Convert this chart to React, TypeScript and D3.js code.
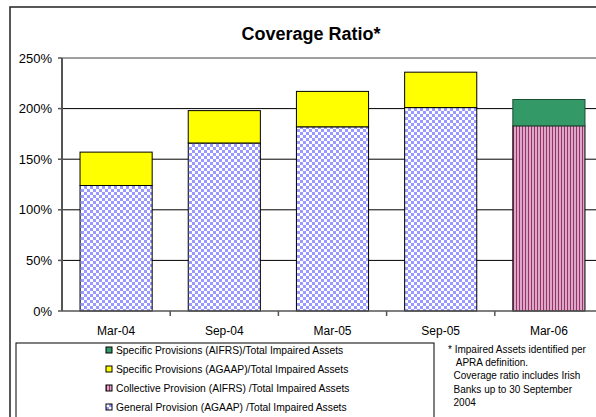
import * as d3 from "d3";
import React from "react";

const periods = ["Mar-04", "Sep-04", "Mar-05", "Sep-05", "Mar-06"];
const generalAgaap = [124, 166, 182, 201, 0];
const collectiveAifrs = [0, 0, 0, 0, 183];
const specificAgaap = [33, 32, 35, 35, 0];
const specificAifrs = [0, 0, 0, 0, 26];
const yTicks = [0, 50, 100, 150, 200, 250];

const seriesKeys = ["general", "collective", "specAgaap", "specAifrs"];
const seriesFill: Record<string, string> = {
  general: "url(#checker)",
  collective: "url(#stripes)",
  specAgaap: "#ffff00",
  specAifrs: "#339966",
};
// legend is listed top to bottom in reverse stacking order
const legendItems = [
  { key: "specAifrs", label: "Specific Provisions (AIFRS)/Total Impaired Assets" },
  { key: "specAgaap", label: "Specific Provisions (AGAAP)/Total Impaired Assets" },
  { key: "collective", label: "Collective Provision (AIFRS) /Total Impaired Assets" },
  { key: "general", label: "General Provision (AGAAP) /Total Impaired Assets" },
];
const noteLines = [
  "* Impaired Assets identified per",
  "   APRA definition.",
  "  Coverage ratio includes Irish",
  "  Banks up to 30 September",
  "  2004",
];

const W = 596;
const H = 417;
const plot = { left: 62, right: 603, top: 58, bottom: 311 };
const font = "'Liberation Sans', Arial, sans-serif";

const App: React.FC = () => {
  const rows = periods.map((p, i) => ({
    period: p,
    general: generalAgaap[i],
    collective: collectiveAifrs[i],
    specAgaap: specificAgaap[i],
    specAifrs: specificAifrs[i],
  }));
  const stacked = d3.stack<any>().keys(seriesKeys)(rows);

  const x = d3
    .scaleBand()
    .domain(periods)
    .range([plot.left, plot.right])
    .paddingInner(1 / 3)
    .paddingOuter(1 / 6);
  const y = d3.scaleLinear().domain([0, 250]).range([plot.bottom, plot.top]);
  const step = x.step();

  return (
    <svg width={W} height={H} style={{ position: "absolute", left: 0, top: 0 }} fontFamily={font}>
      <defs>
        <pattern id="checker" width={6} height={6} patternUnits="userSpaceOnUse">
          <rect width={6} height={6} fill="#ffffff" />
          <rect width={3} height={3} fill="#9999ff" />
          <rect x={3} y={3} width={3} height={3} fill="#9999ff" />
        </pattern>
        <pattern id="stripes" width={3} height={3} patternUnits="userSpaceOnUse">
          <rect width={3} height={3} fill="#dba8ca" />
          <rect width={1} height={3} fill="#993366" />
        </pattern>
      </defs>
      <rect width={W} height={H} fill="#fff" />
      <rect x={10} y={7} width={W + 20} height={H + 20} fill="none" stroke="#222" strokeWidth={1.5} />

      <text x={311} y={40} textAnchor="middle" fontSize={18} fontWeight="bold" fill="#000">
        Coverage Ratio*
      </text>

      {/* plot area */}
      <line x1={plot.left} x2={plot.right} y1={plot.top} y2={plot.top} stroke="#808080" strokeWidth={1.5} />
      {yTicks.filter(t => t > 0 && t < 250).map(t => (
        <line key={t} x1={plot.left} x2={plot.right} y1={y(t)} y2={y(t)} stroke="#000" strokeWidth={1} />
      ))}

      {stacked.map(layer => (
        <g key={layer.key}>
          {layer.map((d, i) =>
            d[1] - d[0] > 0 ? (
              <rect
                key={i}
                x={x(periods[i])}
                y={y(d[1])}
                width={x.bandwidth()}
                height={y(d[0]) - y(d[1])}
                fill={seriesFill[layer.key]}
                stroke={layer.key === "specAifrs" ? "#1a4d33" : "#000"}
                strokeWidth={1}
              />
            ) : null
          )}
        </g>
      ))}

      {/* axes */}
      <line x1={plot.left} x2={plot.left} y1={plot.top} y2={plot.bottom} stroke="#555" strokeWidth={2} />
      <line x1={plot.left} x2={plot.right} y1={plot.bottom} y2={plot.bottom} stroke="#555" strokeWidth={1.5} />
      {yTicks.map(t => (
        <g key={t}>
          <line x1={plot.left - 4} x2={plot.left} y1={y(t)} y2={y(t)} stroke="#555" strokeWidth={1.5} />
          <text x={52} y={y(t) + 4.5} textAnchor="end" fontSize={13} fill="#000">
            {t}%
          </text>
        </g>
      ))}
      {periods.slice(1).map(p => (
        <line
          key={p}
          x1={(x(p) as number) - step / 6}
          x2={(x(p) as number) - step / 6}
          y1={plot.bottom}
          y2={plot.bottom + 5}
          stroke="#555"
          strokeWidth={1.5}
        />
      ))}
      {periods.map(p => (
        <text
          key={p}
          x={(x(p) as number) + x.bandwidth() / 2}
          y={335}
          textAnchor="middle"
          fontSize={12}
          fill="#000"
        >
          {p}
        </text>
      ))}

      {/* legend */}
      <rect x={16} y={343} width={418} height={90} fill="#fff" stroke="#000" strokeWidth={1} />
      {legendItems.map((it, i) => (
        <g key={it.key} transform={`translate(106,${350 + i * 19})`}>
          <rect x={0} y={-3} width={6} height={6} fill={seriesFill[it.key]} stroke="#000" strokeWidth={1} />
          <text x={10} y={3.5} fontSize={10.3} fill="#000">
            {it.label}
          </text>
        </g>
      ))}

      {/* note */}
      {noteLines.map((l, i) => (
        <text key={i} x={448} y={352.5 + i * 13.4} fontSize={10} fill="#000" style={{ whiteSpace: "pre" }}>
          {l}
        </text>
      ))}
    </svg>
  );
};

export default App;
